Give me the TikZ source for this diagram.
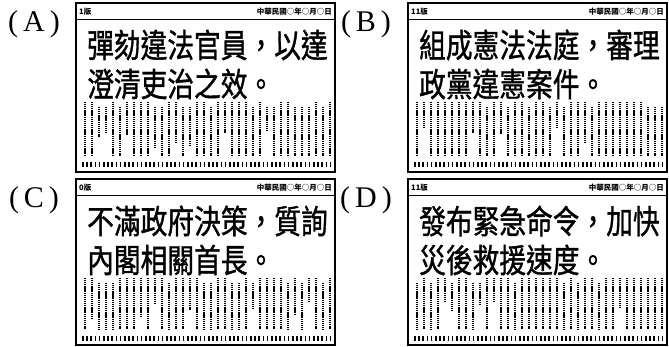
\documentclass[tikz,border=0pt]{standalone}
\usepackage{fontspec}
\setmainfont{Liberation Serif}
\newfontfamily\cjk{Noto Sans CJK TC}
\newfontfamily\cjkhead[FakeBold=1.2]{Noto Sans CJK TC}
\begin{document}
\begin{tikzpicture}[x=1pt,y=-1pt,
		paper/.style={draw,line width=1.5pt},
		panellabel/.style={font=\fontsize{30}{30}\selectfont},
		smallhead/.style={inner sep=0,font=\cjk\bfseries\fontsize{7.5}{8}\selectfont},
		headline/.style={anchor=west,inner sep=0,xscale=0.81,font=\cjkhead\fontsize{33}{33}\selectfont},
		column/.style={line width=1.7pt,dash pattern=on 1.2pt off 0.7pt},
		glyphrow/.style={line width=5pt,dash pattern=on 1.6pt off 2.6pt}]
	\useasboundingbox (0,0) rectangle (669,347);
	\pgfmathsetseed{17}
	\foreach \px/\py/\pb/\lab/\ed/\hone/\htwo in {
		76/3/172/A/1/{彈劾違法官員，以達}/{澄清吏治之效。},
		408/3/172/B/11/{組成憲法法庭，審理}/{政黨違憲案件。},
		76/179/345/C/0/{不滿政府決策，質詢}/{內閣相關首長。},
		408/179/345/D/11/{發布緊急命令，加快}/{災後救援速度。}}
	{
		\draw[paper] (\px,\py) rectangle (\px+259,\pb);
		\node[panellabel] (lab-\lab) at (\px-42,\py+21) {(\hspace{5pt}\lab\hspace{5pt})};
		\node[smallhead,anchor=west] (ed-\lab) at (\px+3,\py+9) {\ed 版};
		\node[smallhead,anchor=east] (date-\lab) at (\px+256,\py+9) {中華民國○年○月○日};
		\draw[line width=0.8pt] (\px,\py+16) -- (\px+259,\py+16);
		\node[headline] (headone-\lab) at (\px+11,\py+42) {\hone};
		\node[headline] (headtwo-\lab) at (\px+11,\py+81) {\htwo};
		\foreach \c in {0,...,35} {
			\pgfmathsetmacro\ctop{\py+99+(rnd<0.3)*5}
			\pgfmathsetmacro\cbot{\pb-16-(rnd<0.2)*(8+20*rnd)}
			\draw[column] (\px+9+7*\c,\ctop) -- (\px+9+7*\c,\cbot);
		}
		\draw[glyphrow] (\px+6,\pb-7) -- (\px+255,\pb-7);
	}
\end{tikzpicture}
\end{document}
